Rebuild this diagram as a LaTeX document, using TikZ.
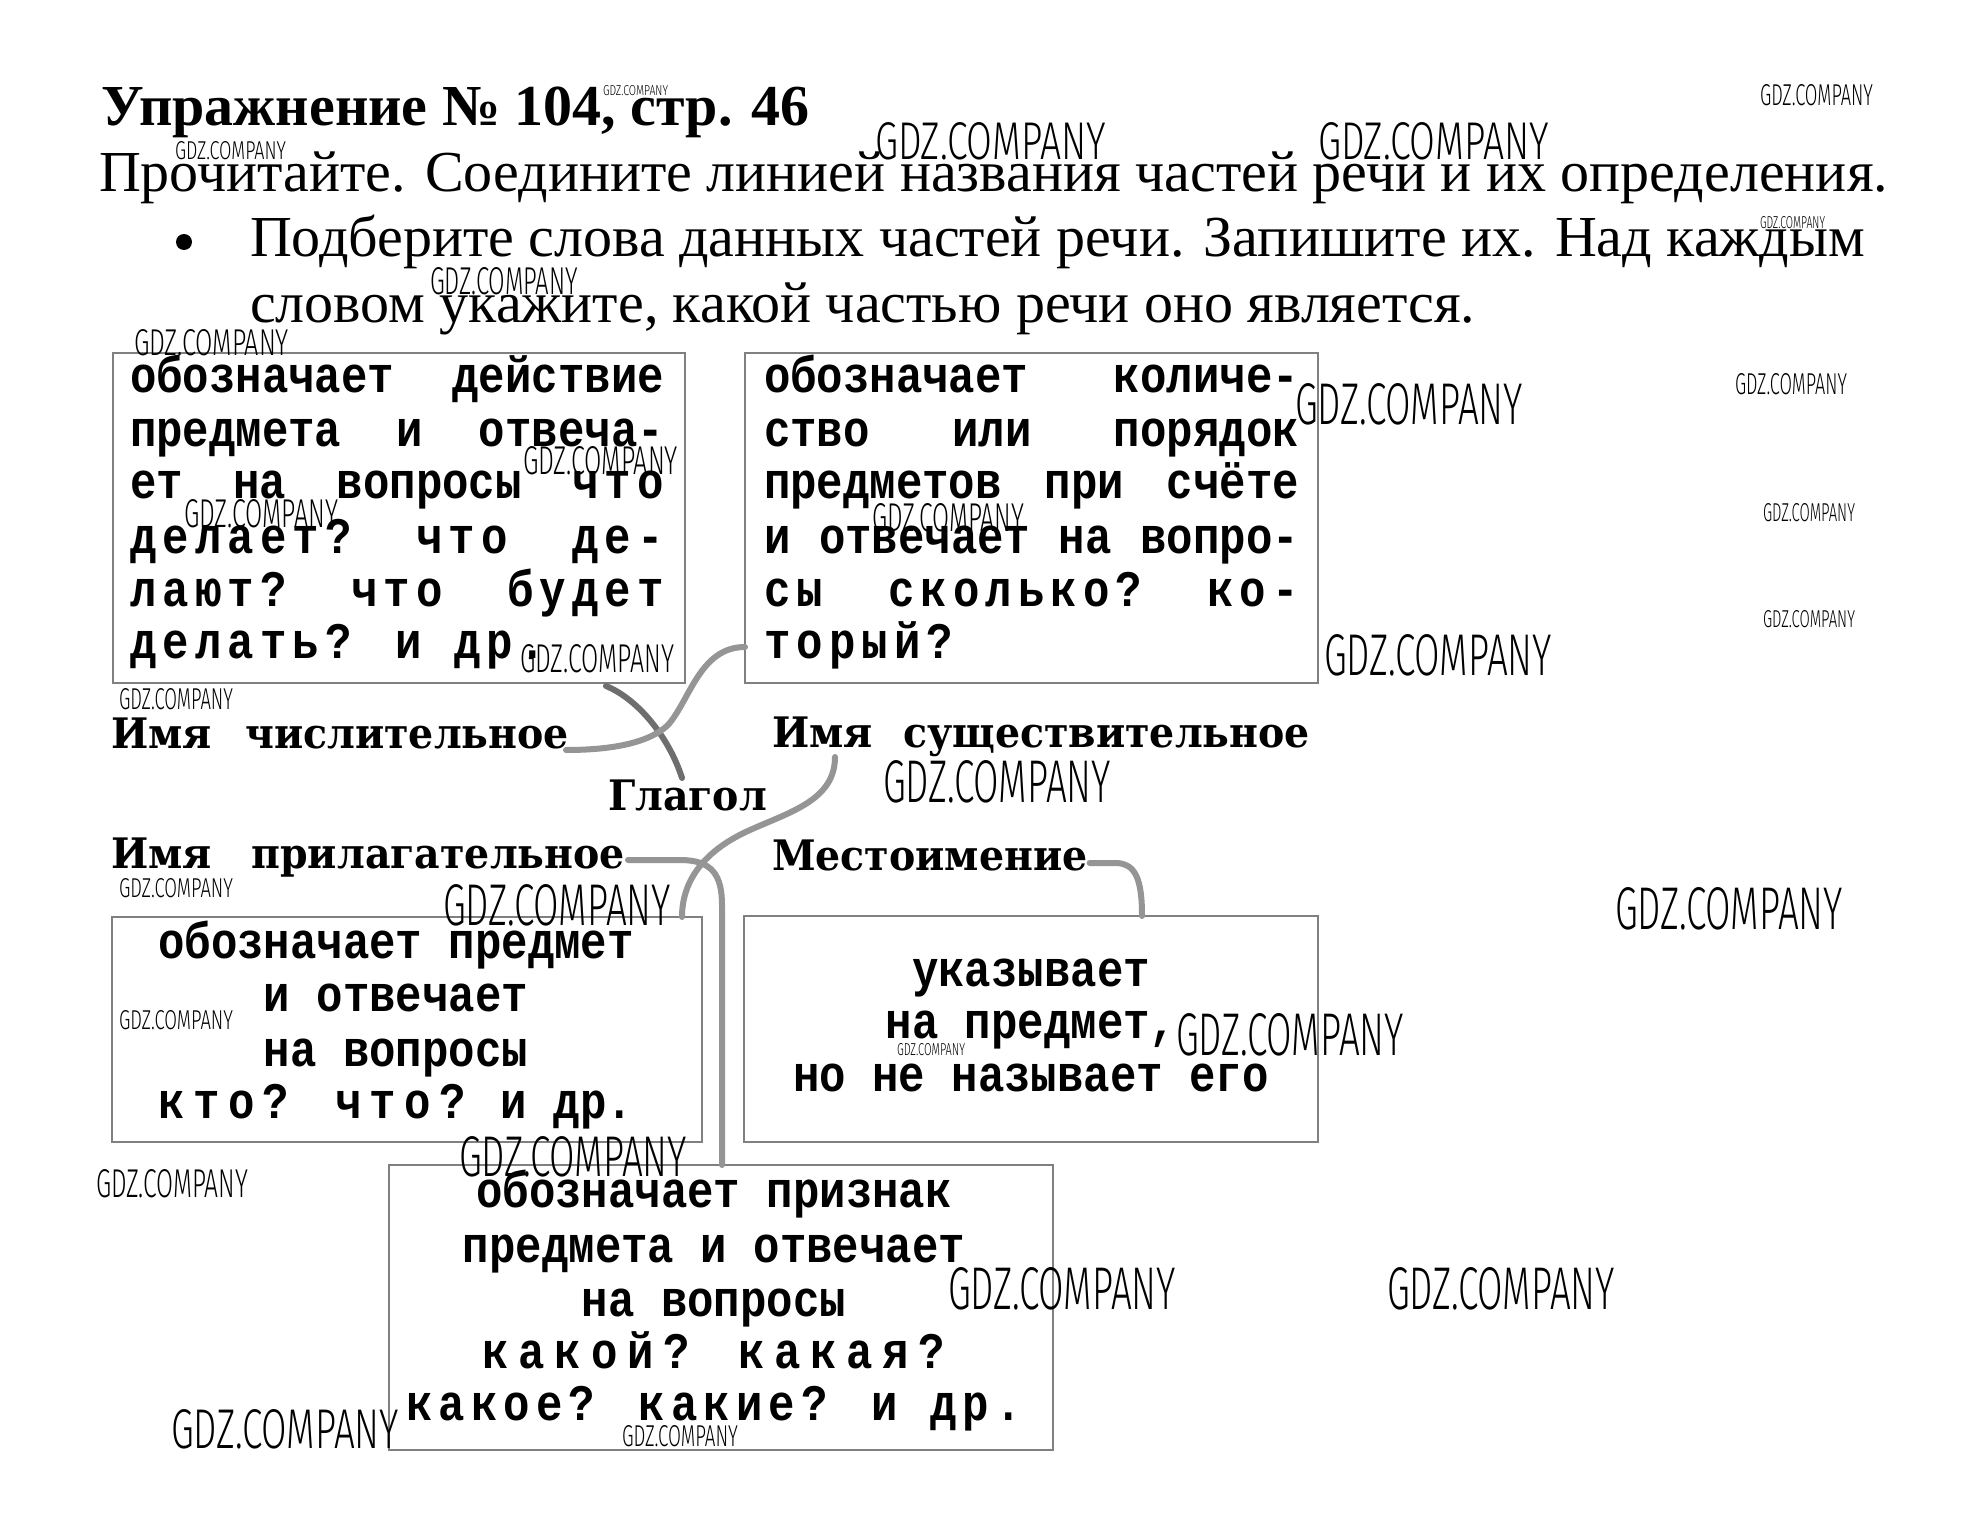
\documentclass[tikz,border=0pt]{standalone}
\usepackage{fontspec}
\setmainfont{Liberation Serif}
\newfontfamily\boxfont{Liberation Mono}[FakeStretch=0.86]
\newfontfamily\labfont{DejaVu Serif}[FakeStretch=0.94]
\IfFontExistsTF{Fira Sans Light}{\newfontfamily\wmfont{Fira Sans Light}}{\newfontfamily\wmfont{Liberation Sans}}
\usetikzlibrary{calc}
\definecolor{framegray}{HTML}{808080}
\definecolor{lineA}{HTML}{6E6E6E}
\definecolor{lineB}{HTML}{959595}
\newcommand\sps[1]{{\addfontfeature{LetterSpace=12}#1}}
\newcommand\spw[1]{{\addfontfeature{LetterSpace=19}#1}}
\newcommand\jlA[1]{\hbox to 267pt{#1}}
\newcommand\jlB[1]{\hbox to 267.5pt{#1}}
\begin{document}
\begin{tikzpicture}[x=0.5pt,y=-0.5pt]
\tikzset{
  frame/.style={draw=framegray, line width=1.3pt, inner sep=0pt, outer sep=0pt},
  bline/.style={font=\boxfont\bfseries\fontsize{25.6pt}{30pt}\selectfont, inner sep=0pt, outer sep=0pt},
  blineL/.style={bline, anchor=base west},
  blineC/.style={bline, anchor=base},
  lab/.style={font=\labfont\bfseries\fontsize{21pt}{25pt}\selectfont, inner sep=0pt, outer sep=0pt, anchor=base west},
  conn/.style={line width=3pt, draw=lineB, line cap=round, line join=round},
  connA/.style={conn, draw=lineA},
  wm/.style={inner sep=0pt, outer sep=0pt, anchor=north west},
  head/.style={inner sep=0pt, outer sep=0pt, anchor=base west, font=\fontsize{29pt}{34pt}\selectfont},
}
\fill[white] (0,0) rectangle (1987,1524);
\useasboundingbox (0,0) rectangle (1987,1524);

% heading
\node[inner sep=0pt, anchor=base west, font=\bfseries\fontsize{29pt}{34pt}\selectfont] (title) at (101,126) {Упражнение № 104, стр. 46};
\node[head] (t1) at (99,192) {Прочитайте. Соедините линией названия частей речи и их определения.};
\node[circle, fill=black, inner sep=0pt, minimum size=8pt] (bul) at (184,242) {};
\node[head] (t2) at (250,257) {Подберите слова данных частей речи. Запишите их. Над каждым};
\node[head] (t3) at (250,323) {словом укажите, какой частью речи оно является.};

% boxes
\node[frame, minimum width=286pt, minimum height=165pt] (b1) at (399,518) {};
\node[frame, minimum width=286.5pt, minimum height=165pt] (b2) at (1031.5,518) {};
\node[frame, minimum width=295pt, minimum height=112.5pt] (b3) at (407,1029.5) {};
\node[frame, minimum width=287pt, minimum height=113pt] (b4) at (1031,1029) {};
\node[frame, minimum width=332pt, minimum height=142.5pt] (b5) at (721,1307.5) {};

% box 1 text
\node[blineL] (b1a) at (130,393) {\jlA{обозначает\hfill действие}};
\node[blineL] (b1b) at (130,447) {\jlA{предмета\hfill и\hfill отвеча-}};
\node[blineL] (b1c) at (130,499) {\jlA{ет\hfill на\hfill вопросы\hfill \sps{что}}};
\node[blineL] (b1d) at (130,553) {\jlA{\sps{делает?}\hfill \sps{что}\hfill \sps{де-}}};
\node[blineL] (b1e) at (130,606) {\jlA{\sps{лают?}\hfill \sps{что}\hfill \sps{будет}}};
\node[blineL] (b1f) at (130,658) {\sps{делать? и др.}};

% box 2 text
\node[blineL] (b2a) at (764,393) {\jlB{обозначает\hfill количе-}};
\node[blineL] (b2b) at (764,447) {\jlB{ство\hfill или\hfill порядок}};
\node[blineL] (b2c) at (764,499) {\jlB{предметов\hfill при\hfill счёте}};
\node[blineL] (b2d) at (764,553) {\jlB{и\hfill отвечает\hfill на\hfill вопро-}};
\node[blineL] (b2e) at (764,606) {\jlB{\sps{сы}\hfill \sps{сколько?}\hfill \sps{ко-}}};
\node[blineL] (b2f) at (764,658) {\sps{торый?}};

% box 3 text
\node[blineC] (b3a) at (396,958) {обозначает предмет};
\node[blineC] (b3b) at (396,1011) {и отвечает};
\node[blineC] (b3c) at (396,1066) {на вопросы};
\node[blineC] (b3d) at (396,1118) {{\addfontfeature{LetterSpace=16}кто? что?} и др.};

% box 4 text
\node[blineC] (b4a) at (1031,986) {указывает};
\node[blineC] (b4b) at (1031,1038) {на предмет,};
\node[blineC] (b4c) at (1031,1091) {но не называет его};

% box 5 text
\node[blineC] (b5a) at (714,1207) {обозначает признак};
\node[blineC] (b5b) at (714,1262) {предмета и отвечает};
\node[blineC] (b5c) at (714,1316) {на вопросы};
\node[blineC] (b5d) at (714,1368) {\spw{какой? какая?}};
\node[blineC] (b5e) at (714,1420) {\sps{какое? какие? и др.}};

% labels
\node[lab] (lnum) at (111,748) {\hbox to 229pt{Имя\hfill числительное}};
\node[lab] (lsus) at (772,747) {\hbox to 269pt{Имя\hfill существительное}};
\node[lab] (lgl) at (608,810) {Глагол};
\node[lab] (lpri) at (111,868) {\hbox to 257pt{Имя\hfill прилагательное}};
\node[lab] (lmes) at (772,870) {Местоимение};

% connectors
\draw[connA] ($(b1.south west)+(493,3)$) .. controls (640,700) and (670,740) .. ($(lgl.base west)+(74,-32)$);
\draw[conn] ($(lnum.base east)+(-3,2)$) .. controls (615,750) and (650,742) .. (668,725)
   .. controls (690,700) and (700,647) .. ($(b2.south west)+(0,-36)$);
\draw[conn] ($(lsus.base west)+(63,10)$) .. controls (835,800) and (790,812) .. (750,830)
   .. controls (705,850) and (682,880) .. ($(b3.north west)+(570,0)$);
\draw[conn] ($(lpri.base east)+(3,-8)$) -- (680,860) .. controls (712,860) and (722,875) .. (722,905)
   -- ($(b5.north west)+(333,0)$);
\draw[conn] ($(lmes.base east)+(2,-7)$) -- (1115,863) .. controls (1135,863) and (1142,878) .. ($(b4.north west)+(398,0)$);

% watermarks
\foreach \px/\py/\pw/\ph [count=\i] in {
  875/122/231/37, 1318/122/231/37, 1295/383/228/41, 1324/634/228/41,
  883/760/228/42, 1615/887/228/42, 443/884/228/41, 1176/1013/228/42,
  459/1136/228/40, 948/1267/228/42, 1387/1267/228/42, 171/1409/228/39,
  523/446/155/28, 184/500/154/28, 872/503/152/28, 520/644/154/28,
  134/330/155/26, 430/268/148/27, 96/1169/152/28,
  1760/85/113/21, 175/142/111/18, 1735/374/112/21, 1763/504/92/18,
  1763/610/92/17, 119/688/114/21, 119/878/114/19, 119/1010/114/19,
  603/86/65/10, 1760/217/65/12, 897/1043/68/12, 622/1425/116/21}
{
  \pgfmathsetlengthmacro\ww{\pw*0.5pt}
  \pgfmathsetlengthmacro\hh{\ph*0.5pt}
  \node[wm] (wm\i) at (\px,\py) {\resizebox{\ww}{\hh}{\wmfont GDZ.COMPANY}};
}
\end{tikzpicture}
\end{document}
